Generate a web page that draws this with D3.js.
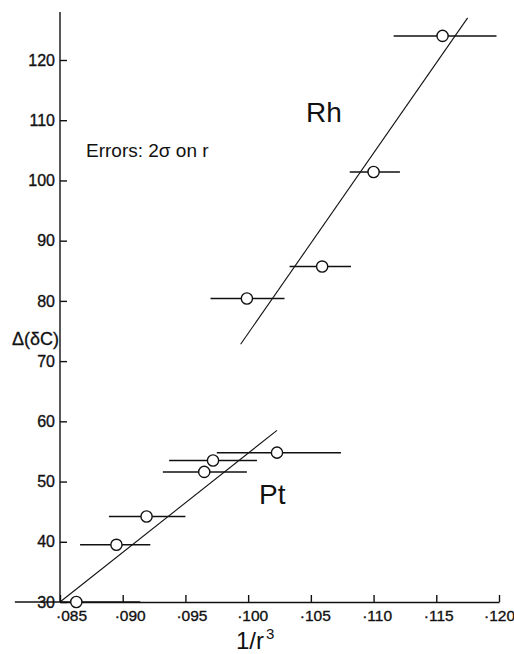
<!DOCTYPE html>
<html>
<head>
<meta charset="utf-8">
<script src="https://cdn.jsdelivr.net/npm/d3@7"></script>
<style>
  html, body { margin: 0; padding: 0; background: #fff; }
  svg { display: block; }
  text { font-family: "Liberation Sans", Arial, sans-serif; fill: #111; }
</style>
</head>
<body>
<figure id="chart" style="margin:0"></figure>
<script>
// values: 1/r^3 against delta(deltaC)
const rhX = [0.1155, 0.1100, 0.1059, 0.0999];
const rhY = [124.0, 101.4, 85.7, 80.4];
const rhErrLo = [0.1116, 0.1081, 0.1033, 0.0970];
const rhErrHi = [0.1198, 0.1121, 0.1082, 0.1029];
const rhFitX = [0.0994, 0.1175];
const rhFitY = [72.8, 127.0];

const ptX = [0.0863, 0.0895, 0.0919, 0.0965, 0.0972, 0.1023];
const ptY = [30.0, 39.5, 44.2, 51.6, 53.5, 54.8];
const ptErrLo = [0.0814, 0.0866, 0.0889, 0.0932, 0.0937, 0.0975];
const ptErrHi = [0.0914, 0.0922, 0.0950, 0.0999, 0.1007, 0.1074];
const ptFitX = [0.085, 0.1023];
const ptFitY = [30.0, 58.5];

const xTicks = [0.085, 0.090, 0.095, 0.100, 0.105, 0.110, 0.115, 0.120];
const yTicks = [30, 40, 50, 60, 70, 80, 90, 100, 110, 120];

const width = 514;
const height = 654;

const svg = d3.select('figure#chart')
  .append('svg')
  .attr('width', width)
  .attr('height', height);

const x = d3.scaleLinear().domain([0.085, 0.120]).range([60, 499]);
const y = d3.scaleLinear().domain([30, 120]).range([602, 60]);

// axes, ticks pointing inwards like the original drawing
const xAxis = d3.axisBottom(x)
  .tickValues(xTicks)
  .tickSizeInner(-7)
  .tickSizeOuter(0)
  .tickPadding(8)
  .tickFormat(d => '\u00b7' + d3.format('.3f')(d).slice(2));

const gx = svg.append('g')
  .attr('transform', `translate(0,${y(30)})`)
  .call(xAxis);
// hand lettering sits a little right of each tick
const labelShift = [11, 7, 6, 4, 4, 3, 2, 0];
gx.selectAll('text')
  .attr('font-size', 15.5)
  .attr('stroke', '#111').attr('stroke-width', 0.35)
  .attr('dx', (d, i) => labelShift[i]);

const yAxis = d3.axisLeft(y)
  .tickValues(yTicks)
  .tickSizeInner(-7)
  .tickSizeOuter(0)
  .tickPadding(5);

const gy = svg.append('g')
  .attr('transform', `translate(${x(0.085)},0)`)
  .call(yAxis);
gy.selectAll('text')
  .attr('font-size', 16)
  .attr('stroke', '#111').attr('stroke-width', 0.35);
gy.select('.domain').remove();

svg.append('line')
  .attr('x1', x(0.085)).attr('x2', x(0.085))
  .attr('y1', 12).attr('y2', y(30))
  .attr('stroke', '#111').attr('stroke-width', 1.4);

svg.selectAll('.domain, .tick line').attr('stroke', '#111').attr('stroke-width', 1.4);

// fitted lines
const fits = [
  { xs: rhFitX, ys: rhFitY },
  { xs: ptFitX, ys: ptFitY }
];
svg.selectAll('line.fit')
  .data(fits)
  .enter()
  .append('line')
  .attr('class', 'fit')
  .attr('x1', d => x(d.xs[0])).attr('y1', d => y(d.ys[0]))
  .attr('x2', d => x(d.xs[1])).attr('y2', d => y(d.ys[1]))
  .attr('stroke', '#111')
  .attr('stroke-width', 1.1);

function drawSeries(xs, ys, lo, hi) {
  const pts = xs.map((v, i) => ({ x: v, y: ys[i], lo: lo[i], hi: hi[i] }));
  const g = svg.append('g');
  g.selectAll('line')
    .data(pts)
    .enter()
    .append('line')
    .attr('x1', d => x(d.lo)).attr('x2', d => x(d.hi))
    .attr('y1', d => y(d.y)).attr('y2', d => y(d.y))
    .attr('stroke', '#111')
    .attr('stroke-width', 1.5);
  g.selectAll('circle')
    .data(pts)
    .enter()
    .append('circle')
    .attr('cx', d => x(d.x))
    .attr('cy', d => y(d.y))
    .attr('r', 5.6)
    .attr('fill', '#fff')
    .attr('stroke', '#111')
    .attr('stroke-width', 1.4);
}

drawSeries(rhX, rhY, rhErrLo, rhErrHi);
drawSeries(ptX, ptY, ptErrLo, ptErrHi);

// labels
svg.append('text')
  .attr('x', 86).attr('y', 157)
  .attr('font-size', 19)
  .text('Errors: 2\u03c3 on r');

svg.append('text')
  .attr('x', 306).attr('y', 122)
  .attr('font-size', 28)
  .text('Rh');

svg.append('text')
  .attr('x', 259).attr('y', 504)
  .attr('font-size', 28)
  .text('Pt');

svg.append('text')
  .attr('x', 12).attr('y', 345)
  .attr('font-size', 18)
  .attr('stroke', '#111').attr('stroke-width', 0.3)
  .text('\u0394(\u03b4C)');

const xl = svg.append('text')
  .attr('x', 236).attr('y', 649)
  .attr('font-size', 24)
  .text('1/r');
xl.append('tspan')
  .attr('dy', -10)
  .attr('dx', 2)
  .attr('font-size', 15)
  .text('3');
</script>
</body>
</html>
